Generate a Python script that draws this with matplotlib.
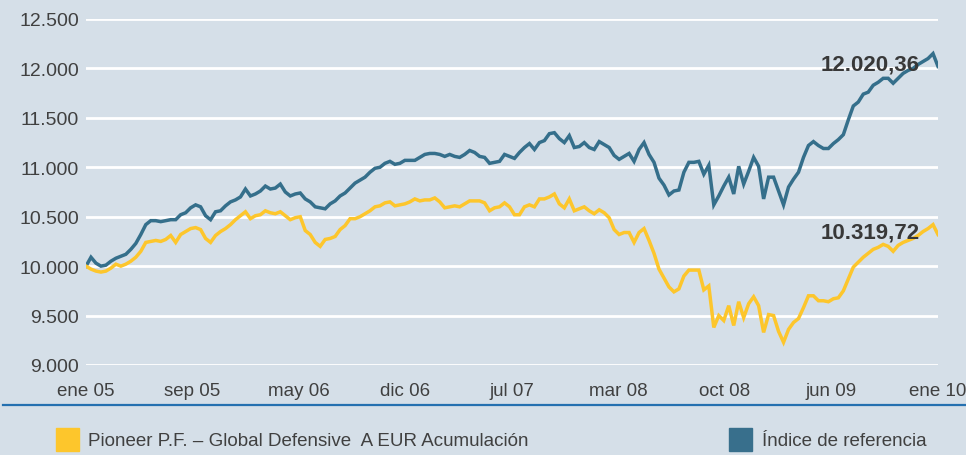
import numpy as np
import matplotlib

matplotlib.use("Agg")
import matplotlib.pyplot as plt
from matplotlib.lines import Line2D
from matplotlib.patches import Rectangle

# Valor de 10.000 invertidos, observaciones equiespaciadas ene 05 - ene 10
indice = [
    10000, 10090, 10030, 10000, 10010, 10050, 10080, 10100, 10120, 10170,
    10230, 10320, 10420, 10460, 10460, 10450, 10460, 10470, 10470, 10520,
    10540, 10590, 10620, 10600, 10510, 10470, 10550, 10560, 10610, 10650,
    10670, 10700, 10780, 10710, 10730, 10760, 10810, 10780, 10790, 10830,
    10750, 10710, 10730, 10740, 10680, 10650, 10600, 10590, 10580, 10630,
    10660, 10710, 10740, 10790, 10840, 10870, 10900, 10950, 10990, 11000,
    11040, 11060, 11030, 11040, 11070, 11070, 11070, 11100, 11130, 11140,
    11140, 11130, 11110, 11130, 11110, 11100, 11130, 11170, 11150, 11110,
    11100, 11040, 11050, 11060, 11130, 11110, 11090, 11150, 11200, 11240,
    11180, 11250, 11270, 11340, 11350, 11290, 11250, 11320, 11200, 11210,
    11250, 11200, 11180, 11260, 11230, 11200, 11120, 11080, 11110, 11140,
    11060, 11180, 11250, 11130, 11050, 10890, 10820, 10720, 10760, 10770,
    10950, 11050, 11050, 11060, 10930, 11020, 10620, 10710, 10810, 10900,
    10730, 11010, 10830, 10960, 11100, 11010, 10680, 10900, 10900, 10760,
    10620, 10800, 10880, 10950, 11100, 11220, 11260, 11220, 11190, 11190,
    11240, 11280, 11330, 11480, 11620, 11660, 11740, 11760, 11830, 11860,
    11900, 11900, 11850, 11900, 11950, 11980, 12000, 12040, 12070, 12100,
    12150, 12020.36,
]
fondo = [
    10000, 9970, 9950, 9940, 9950, 9980, 10020, 10000, 10020, 10050,
    10090, 10150, 10240, 10250, 10260, 10250, 10270, 10310, 10240, 10320,
    10350, 10380, 10390, 10370, 10280, 10240, 10310, 10350, 10380, 10420,
    10470, 10510, 10550, 10480, 10510, 10520, 10560, 10540, 10530, 10550,
    10510, 10470, 10490, 10500, 10360, 10320, 10240, 10200, 10270, 10280,
    10300, 10370, 10410, 10480, 10480, 10500, 10530, 10560, 10600, 10610,
    10640, 10650, 10610, 10620, 10630, 10650, 10680, 10660, 10670, 10670,
    10690, 10650, 10590, 10600, 10610, 10600, 10630, 10660, 10660, 10660,
    10640, 10560, 10590, 10600, 10640, 10600, 10520, 10520, 10600, 10620,
    10600, 10680, 10680, 10700, 10730, 10630, 10590, 10680, 10560, 10580,
    10600, 10560, 10530, 10570, 10540, 10490, 10370, 10320, 10340, 10340,
    10240, 10340, 10380, 10260, 10130, 9970, 9880, 9790, 9740, 9770,
    9900, 9960, 9960, 9960, 9760, 9800, 9380, 9500, 9450, 9600,
    9400, 9640, 9480, 9620, 9690, 9600, 9330, 9510, 9500, 9340,
    9230, 9360, 9430, 9470, 9580, 9700, 9700, 9650, 9650, 9640,
    9670, 9680, 9750, 9870, 9990, 10040, 10090, 10130, 10170, 10190,
    10220, 10200, 10150, 10210, 10240, 10260, 10280, 10310, 10350, 10380,
    10420, 10319.72,
]
etiquetas_x = ["ene 05", "sep 05", "may 06", "dic 06", "jul 07",
               "mar 08", "oct 08", "jun 09", "ene 10"]
niveles_y = [9000, 9500, 10000, 10500, 11000, 11500, 12000, 12500]
nombre_fondo = "Pioneer P.F. \u2013 Global Defensive  A EUR Acumulaci\u00f3n"
nombre_indice = "\u00cdndice de referencia"

FONDO_BG = "#d5dfe8"
AZUL = "#356f8b"
AMARILLO = "#fdc62c"
TEXTO = "#404040"

plt.rcParams["font.family"] = ["Liberation Sans", "DejaVu Sans"]


def es_num(v):
    # 12020.36 -> "12.020,36"
    return f"{v:,.2f}".replace(",", "X").replace(".", ",").replace("X", ".")


meses = np.linspace(0, 60, len(indice))  # meses desde ene 05

fig = plt.figure(figsize=(9.66, 4.56), dpi=100, facecolor=FONDO_BG)
ax = fig.add_axes([86 / 966, 90 / 456, 852 / 966, 346 / 456], facecolor=FONDO_BG)

ax.plot(meses, indice, color=AZUL, lw=2.5, solid_joinstyle="miter")
ax.plot(meses, fondo, color=AMARILLO, lw=2.5, solid_joinstyle="miter")

ax.set_xlim(0, 60)
ax.set_ylim(9000, 12500)
ax.set_yticks(niveles_y)
ax.set_yticklabels([f"{v:,.0f}".replace(",", ".") for v in niveles_y],
                   fontsize=14, color=TEXTO)
ax.set_xticks(np.linspace(0, 60, len(etiquetas_x)))
ax.set_xticklabels(etiquetas_x, fontsize=13.5, color=TEXTO)
ax.tick_params(axis="both", length=0)
ax.tick_params(axis="y", pad=5)
ax.tick_params(axis="x", pad=12.5)
ax.grid(axis="y", color="white", lw=2)
ax.set_axisbelow(True)
for s in ax.spines.values():
    s.set_visible(False)

# valores finales
ax.text(meses[-1] - 1.3, indice[-1] + 22, es_num(indice[-1]), ha="right",
        va="center", fontsize=16, fontweight="bold", color="#383838", zorder=5)
ax.text(meses[-1] - 1.3, fondo[-1] + 22, es_num(fondo[-1]), ha="right",
        va="center", fontsize=16, fontweight="bold", color="#383838", zorder=5)

# línea base y leyenda
fig.add_artist(Line2D([0.003, 1], [50 / 456, 50 / 456], color="#2470b0", lw=1.6))
fig.add_artist(Rectangle((56 / 966, 4 / 456), 23 / 966, 23 / 456, color=AMARILLO))
fig.add_artist(Rectangle((729 / 966, 4 / 456), 23 / 966, 23 / 456, color="#386f8c"))
fig.text(88 / 966, 14 / 456, nombre_fondo, fontsize=13.5, color=TEXTO,
         va="center")
fig.text(762 / 966, 14 / 456, nombre_indice, fontsize=13.5, color=TEXTO,
         va="center")

fig.savefig("out.png", dpi=100, facecolor=FONDO_BG)
